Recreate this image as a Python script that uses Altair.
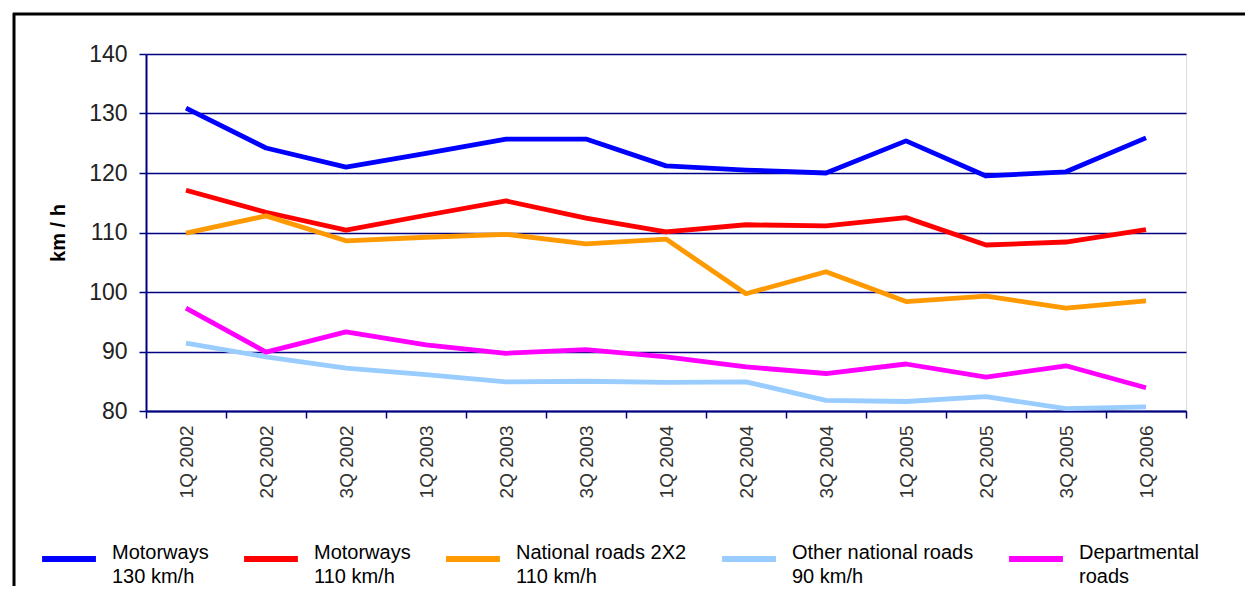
import altair as alt
import pandas as pd

quarters = ["1Q 2002", "2Q 2002", "3Q 2002", "1Q 2003", "2Q 2003", "3Q 2003", "1Q 2004",
            "2Q 2004", "3Q 2004", "1Q 2005", "2Q 2005", "3Q 2005", "1Q 2006"]

series_names = ["Motorways|130 km/h", "Motorways|110 km/h", "National roads 2X2|110 km/h",
                "Other national roads|90 km/h", "Departmental|roads"]
series_colors = ["#0000FF", "#FF0000", "#FF9900", "#99CCFF", "#FF00FF"]

motorways_130 = [130.9, 124.2, 121.0, 123.3, 125.7, 125.7, 121.2, 120.5, 120.0, 125.4, 119.5, 120.2, 125.9]
motorways_110 = [117.1, 113.4, 110.4, 112.9, 115.3, 112.4, 110.1, 111.3, 111.1, 112.5, 107.9, 108.4, 110.5]
national_2x2 = [109.9, 112.8, 108.6, 109.2, 109.7, 108.1, 108.9, 99.7, 103.4, 98.4, 99.3, 97.3, 98.5]
other_national = [91.4, 89.1, 87.2, 86.1, 84.9, 85.0, 84.8, 84.9, 81.8, 81.6, 82.4, 80.4, 80.7]
departmental = [97.3, 89.9, 93.3, 91.1, 89.7, 90.3, 89.1, 87.4, 86.3, 87.9, 85.7, 87.6, 83.9]

values = [motorways_130, motorways_110, national_2x2, other_national, departmental]
rows = []
for name, vals in zip(series_names, values):
    for q, v in zip(quarters, vals):
        rows.append({"quarter": q, "series": name, "value": v})
df = pd.DataFrame(rows)

NAVY = "#000080"
FONT = "Liberation Sans"

lines = alt.Chart(df).mark_line(strokeWidth=4.8, strokeJoin="round").encode(
    x=alt.X("quarter:N", sort=quarters, title=None,
            scale=alt.Scale(type="band", paddingInner=0, paddingOuter=0),
            axis=alt.Axis(tickBand="extent", grid=False, labelAngle=-90, labelFontSize=19,
                          labelFont=FONT, labelColor="#333333", labelPadding=7,
                          tickSize=7, tickColor=NAVY, tickWidth=1.5,
                          domainColor=NAVY, domainWidth=2)),
    y=alt.Y("value:Q", title="km / h",
            scale=alt.Scale(domain=[80, 140], nice=False, zero=False),
            axis=alt.Axis(values=[80, 90, 100, 110, 120, 130, 140], grid=True,
                          gridColor=NAVY, gridWidth=1.5, gridOpacity=1,
                          domainColor=NAVY, domainWidth=2, tickColor=NAVY, tickWidth=1.5,
                          tickSize=7, labelFontSize=23, labelFont=FONT, labelColor="#222222",
                          labelPadding=12, titleFont=FONT, titleFontSize=20,
                          titleFontWeight="bold", titleColor="black",
                          titleX=-88, titleBaseline="middle")),
    color=alt.Color("series:N", sort=series_names,
                    scale=alt.Scale(domain=series_names, range=series_colors),
                    legend=alt.Legend(orient="none", legendX=-107, legendY=475,
                                      direction="horizontal", columns=5, columnPadding=23,
                                      symbolType="stroke", symbolSize=2900,
                                      symbolStrokeWidth=6, labelFontSize=20, labelFont=FONT,
                                      labelColor="black", labelExpr="split(datum.label, '|')",
                                      labelBaseline="alphabetic", labelOffset=13,
                                      labelLimit=400, title=None, padding=0)),
)

frame_df = pd.DataFrame({"k": [0]})
frame_top = alt.Chart(frame_df).mark_rule(color="black", strokeWidth=3).encode(
    x=alt.value(-133), x2=alt.value(1099), y=alt.value(-40))
frame_left = alt.Chart(frame_df).mark_rule(color="black", strokeWidth=3).encode(
    x=alt.value(-132), y=alt.value(-41), y2=alt.value(532))

chart = alt.layer(lines, frame_top, frame_left).properties(
    width=1040, height=357,
    padding={"left": 138, "top": 46, "right": 59, "bottom": 175},
    autosize=alt.AutoSizeParams(type="none"),
    background="white",
).configure_view(stroke=None).configure(style={"guide-label": {"lineHeight": 24}})

chart.save("out.html", embed_options={"renderer": "svg", "actions": False})
